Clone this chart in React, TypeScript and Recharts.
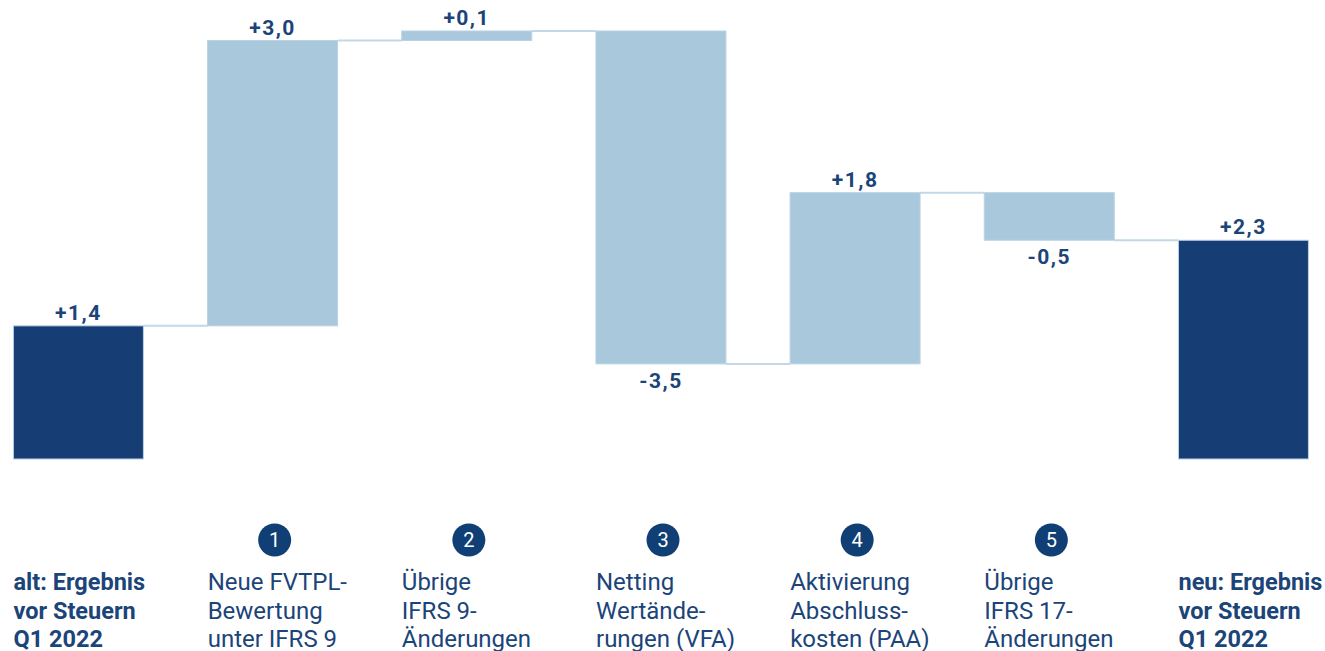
import React from 'react';
import { BarChart, Bar, XAxis, YAxis, LabelList } from 'recharts';

// categories (line breaks as in the original slide)
const categories = [
  'alt: Ergebnis\nvor Steuern\nQ1 2022',
  'Neue FVTPL-\nBewertung\nunter IFRS 9',
  'Übrige\nIFRS 9-\nÄnderungen',
  'Netting\nWertände-\nrungen (VFA)',
  'Aktivierung\nAbschluss-\nkosten (PAA)',
  'Übrige\nIFRS 17-\nÄnderungen',
  'neu: Ergebnis\nvor Steuern\nQ1 2022',
];
const changes = [1.4, 3.0, 0.1, -3.5, 1.8, -0.5, 2.3];
const isTotal = [true, false, false, false, false, false, true];
const stepNumbers = ['', '1', '2', '3', '4', '5', ''];

const W = 1325;
const H = 651;
const MARGIN = { top: 31, right: -15.6, left: -18.6, bottom: 0 };
const BAND = (W - MARGIN.left - MARGIN.right) / categories.length;
const BAR_W = 130;

const DARK = '#173e74';
const LIGHT = '#a9c8dc';
const EDGE = '#b9d2e4';
const TEXT = '#1b4479';

// waterfall: invisible base + visible step
let running = 0;
const data = categories.map((name, i) => {
  const v = changes[i];
  let base: number;
  if (isTotal[i]) {
    base = 0;
    running = v;
  } else {
    base = v >= 0 ? running : running + v;
    running = running + v;
  }
  return { name, base, step: Math.abs(v), value: v, total: isTotal[i] };
});

const fmt = (v: number) => (v > 0 ? '+' : '') + v.toFixed(1).replace('.', ',');

const StepShape = (props: any) => {
  const { x, y, width, height, index } = props;
  const v = changes[index];
  const endY = v < 0 && !isTotal[index] ? y + height : y;
  const last = index === categories.length - 1;
  return (
    <g>
      {!last && (
        <line
          x1={x + width}
          x2={x + width + (BAND - BAR_W)}
          y1={endY}
          y2={endY}
          stroke="#c3d8e7"
          strokeWidth={2}
        />
      )}
      <rect
        x={x}
        y={y}
        width={width}
        height={height}
        fill={isTotal[index] ? DARK : LIGHT}
        stroke={EDGE}
        strokeWidth={1}
      />
    </g>
  );
};

const renderValueLabel = (props: any) => {
  const { x, y, width, height, index } = props;
  const v = changes[index];
  const below = v < 0;
  return (
    <text
      x={x + width / 2}
      y={below ? y + height + 24 : y - 6}
      textAnchor="middle"
      fill={TEXT}
      fontFamily="Roboto"
      fontWeight="bold"
      fontSize={21}
      letterSpacing={1.5}
    >
      {fmt(v)}
    </text>
  );
};

const CategoryTick = (props: any) => {
  const { x, y, payload, index } = props;
  const lines = String(payload.value).split('\n');
  const bold = isTotal[index];
  const num = stepNumbers[index];
  return (
    <g>
      {num && (
        <g>
          <circle cx={x + 2} cy={y + 81} r={16.5} fill="#0f3f74" />
          <text x={x + 2} y={y + 88} textAnchor="middle" fill="#fff" fontFamily="Roboto" fontSize={20}>
            {num}
          </text>
        </g>
      )}
      {lines.map((t, k) => (
        <text
          key={k}
          x={x - 65}
          y={y + 131 + k * 28.5}
          fill={TEXT}
          fontFamily="Roboto"
          fontWeight={bold ? 'bold' : 'normal'}
          fontSize={bold ? 23.5 : 24}
        >
          {t}
        </text>
      ))}
    </g>
  );
};

export default function App() {
  return (
    <div style={{ width: W, height: H, background: '#fff' }}>
      <style>{'body{margin:0;overflow:hidden}'}</style>
      <BarChart width={W} height={H} data={data} margin={MARGIN} barSize={BAR_W}>
        <XAxis
          dataKey="name"
          interval={0}
          tickLine={false}
          axisLine={false}
          tickSize={0}
          tickMargin={0}
          height={192}
          tick={<CategoryTick />}
        />
        <YAxis hide domain={[0, 4.5]} />
        <Bar dataKey="base" stackId="w" fill="transparent" isAnimationActive={false} />
        <Bar dataKey="step" stackId="w" shape={<StepShape />} isAnimationActive={false}>
          <LabelList content={renderValueLabel} />
        </Bar>
      </BarChart>
    </div>
  );
}
